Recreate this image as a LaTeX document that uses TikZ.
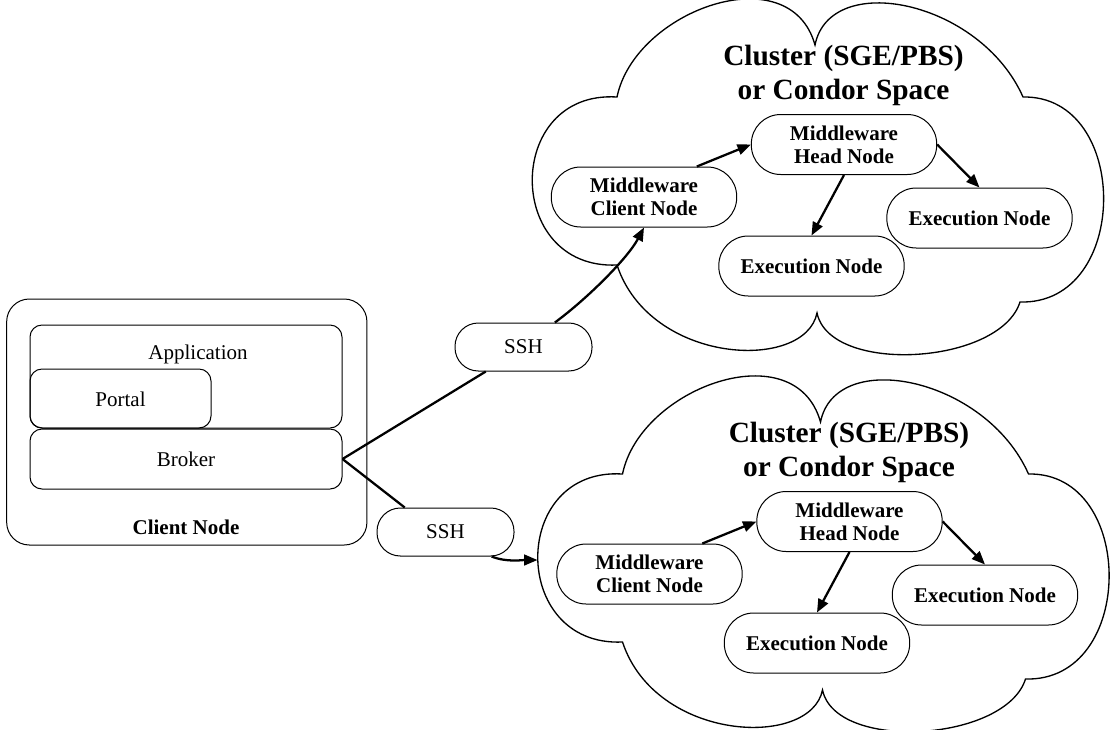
\documentclass[tikz,border=0pt]{standalone}
\usepackage{fontspec}
\setmainfont{Liberation Serif}
\usetikzlibrary{arrows.meta}
\begin{document}
\begin{tikzpicture}[x=0.75pt,y=-0.75pt,
  box/.style={draw, line width=0.75pt, rounded corners=9pt, inner sep=0pt},
  pill/.style={draw, line width=0.75pt, rounded corners=22pt, inner sep=0pt,
    minimum width=139pt, minimum height=45pt, align=center,
    font=\fontsize{15.75}{17.5}\selectfont\bfseries},
  sshpill/.style={draw, line width=0.75pt, rounded corners=17.5pt, inner sep=0pt,
    minimum width=102.75pt, minimum height=36pt, font=\fontsize{15.75}{18}\selectfont},
  txt/.style={inner sep=0pt, font=\fontsize{15.75}{18}\selectfont},
  btxt/.style={inner sep=0pt, font=\fontsize{15.75}{18}\selectfont\bfseries},
  ttl/.style={inner sep=0pt, anchor=base, font=\fontsize{22}{25}\selectfont\bfseries},
  cloudline/.style={draw, line width=1pt},
  conn/.style={line width=1.7pt},
  arr/.style={line width=1.7pt, -{Triangle[length=10pt,width=8pt]}}
]
\useasboundingbox (0,0) rectangle (1110,729);

% Client node
\node[box, rounded corners=17pt, minimum width=270.2pt, minimum height=184.5pt] (client) at (186.8,422) {};
\node[box, minimum width=234pt, minimum height=77.25pt] (app) at (186,376.5) {};
\node[box, minimum width=135.75pt, minimum height=44.25pt] (portal) at (120.5,398.5) {};
\node[box, minimum width=234pt, minimum height=45pt] (broker) at (186,459) {};
\node[txt] (apptext) at (198,354) {Application};
\node[txt] (portaltext) at (120.5,399) {Portal};
\node[txt] (brokertext) at (186,459) {Broker};
\node[btxt] (clienttext) at (186,527) {Client Node};

% SSH nodes
\node[sshpill] (ssh1) at (523.5,347) {SSH};
\node[sshpill] (ssh2) at (445.5,532) {SSH};

% Clouds
\foreach \c/\dx/\dy in {A/0/0,B/5.5/377}{
  \begin{scope}[shift={(\dx,\dy)}]
    \path[cloudline] (617,97) .. controls (635,10) and (790,-45) .. (815,45)
      .. controls (830,-30) and (980,0) .. (1023,97)
      .. controls (1131,95) and (1131,305) .. (1020,302)
      .. controls (1000,365) and (830,375) .. (817,313)
      .. controls (805,372) and (650,365) .. (617,265)
      .. controls (504,270) and (504,90) .. (617,97) -- cycle;
    \coordinate (\c cloudleft) at (532,183);
    \node[ttl] (\c title1) at (843.5,65) {Cluster (SGE/PBS)};
    \node[ttl] (\c title2) at (843.5,99) {or Condor Space};
    \node[pill] (\c mcn) at (644,197) {Middleware\\Client Node};
    \node[pill] (\c mhn) at (844,144.5) {Middleware\\Head Node};
    \node[pill] (\c exa) at (811.5,266) {Execution Node};
    \node[pill] (\c exb) at (979.5,218) {Execution Node};
    \draw[arr] (\c mcn.30.5) -- (\c mhn.west);
    \draw[arr] (\c mhn.south) -- (\c exa.north);
    \draw[arr] (\c mhn.east) -- (\c exb.north);
  \end{scope}
}

% Connectors
\draw[conn] (broker.east) -- (ssh1.213.7);
\draw[arr] (ssh1.38.7) .. controls +(32,-23.5) and +(-16.5,31) .. (Amcn.south);
\draw[conn] (broker.east) -- (ssh2.149.3);
\draw[arr] (ssh2.332.7) .. controls +(15,6) and +(-15,0) .. (Bcloudleft);
\end{tikzpicture}
\end{document}
